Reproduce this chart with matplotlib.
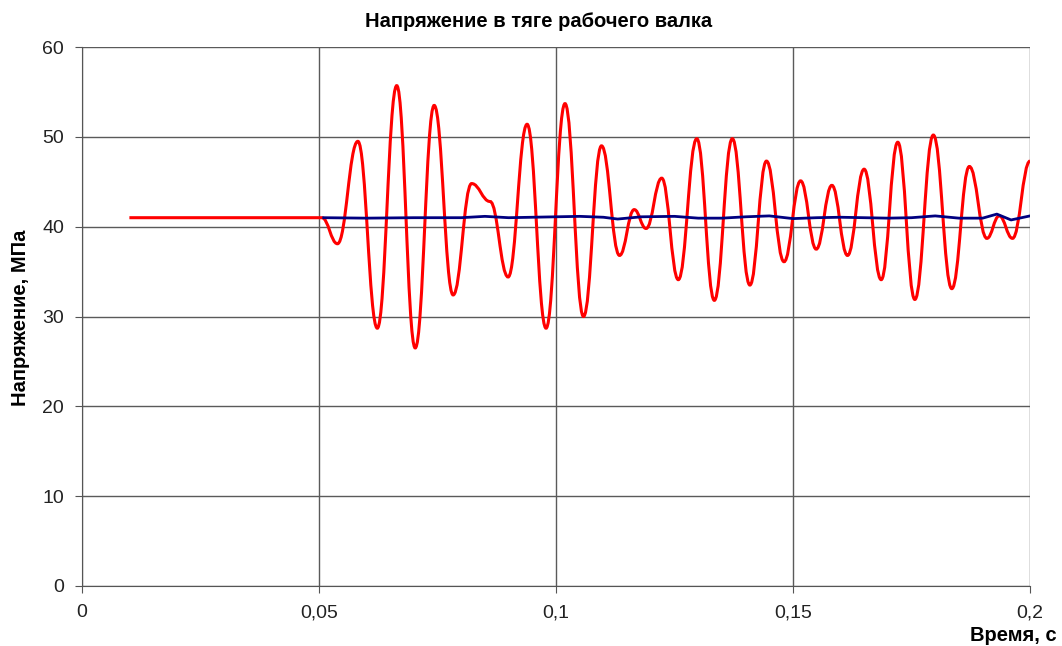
import matplotlib.pyplot as plt
from matplotlib.path import Path
from matplotlib.patches import PathPatch

plt.rcParams['font.family'] = ['Liberation Sans', 'DejaVu Sans']

# red curve: start, flat part and then the turning points of the oscillation
red_t = [0.010, 0.0506, 0.0539, 0.0582, 0.0623, 0.0664, 0.0703, 0.0743, 0.0783,
         0.0822, 0.0861, 0.0899, 0.0939, 0.0979, 0.1019, 0.1058, 0.1096, 0.1134,
         0.1165, 0.1190, 0.1223, 0.1258, 0.1297, 0.1334, 0.1372, 0.1409, 0.1444,
         0.1481, 0.1516, 0.1549, 0.1582, 0.1615, 0.1650, 0.1686, 0.1721, 0.1757,
         0.1796, 0.1835, 0.1872, 0.1909, 0.1935, 0.1963, 0.2000]
red_s = [41.0, 41.0, 38.1, 49.5, 28.7, 55.7, 26.5, 53.5, 32.4,
         44.8, 42.8, 34.4, 51.4, 28.7, 53.7, 30.0, 49.0, 36.8,
         41.9, 39.8, 45.4, 34.1, 49.8, 31.8, 49.8, 33.5, 47.3,
         36.1, 45.1, 37.5, 44.6, 36.8, 46.4, 34.1, 49.4, 31.9,
         50.2, 33.1, 46.7, 38.7, 41.2, 38.7, 47.3]

# blue curve
blue_t = [0.051, 0.060, 0.070, 0.080, 0.085, 0.090, 0.100, 0.105, 0.110, 0.113,
          0.118, 0.125, 0.130, 0.135, 0.140, 0.145, 0.150, 0.155, 0.160, 0.165,
          0.170, 0.175, 0.180, 0.185, 0.190, 0.193, 0.196, 0.200]
blue_s = [41.0, 40.95, 41.0, 41.0, 41.15, 41.0, 41.1, 41.15, 41.05, 40.85,
          41.1, 41.15, 40.95, 40.95, 41.1, 41.2, 40.9, 41.0, 41.05, 41.0,
          40.95, 41.0, 41.2, 40.95, 40.95, 41.4, 40.75, 41.2]

x_ticks = [0, 0.05, 0.1, 0.15, 0.2]
x_labels = ['0', '0,05', '0,1', '0,15', '0,2']
y_ticks = [0, 10, 20, 30, 40, 50, 60]


def smooth_path(xs, ys, k=0.42):
    # cubic bezier segments with flat tangents at every turning point
    verts = [(xs[0], ys[0])]
    codes = [Path.MOVETO]
    for i in range(1, len(xs)):
        x0, y0, x1, y1 = xs[i - 1], ys[i - 1], xs[i], ys[i]
        dx = x1 - x0
        if y0 == y1:
            verts.append((x1, y1))
            codes.append(Path.LINETO)
            continue
        verts += [(x0 + k * dx, y0), (x1 - k * dx, y1), (x1, y1)]
        codes += [Path.CURVE4] * 3
    return Path(verts, codes)


fig = plt.figure(figsize=(10.62, 6.46), dpi=100)
ax = fig.add_axes([0.0772, 0.0929, 0.8927, 0.8343])

ax.plot(blue_t, blue_s, color='#000080', linewidth=2)
ax.add_patch(PathPatch(smooth_path(red_t, red_s), facecolor='none',
                       edgecolor='#ff0000', linewidth=2.2))

ax.set_xlim(0, 0.2)
ax.set_ylim(0, 60)
ax.set_xticks(x_ticks)
ax.set_xticklabels(x_labels)
ax.set_yticks(y_ticks)
ax.tick_params(labelsize=14, direction='out', length=5, pad=8,
               color='#555555', labelcolor='#222222')
ax.grid(True, color='#5a5a5a', linewidth=1)
ax.set_axisbelow(True)
for side in ['top', 'right']:
    ax.spines[side].set_visible(False)
for side in ['left', 'bottom']:
    ax.spines[side].set_color('#555555')

fig.text(0.5075, 0.966, 'Напряжение в тяге рабочего валка', ha='center',
         va='center', fontsize=14.5, fontweight='bold')
fig.text(0.019, 0.508, 'Напряжение, МПа', ha='center', va='center',
         rotation=90, fontsize=14.5, fontweight='bold')
fig.text(0.995, 0.017, 'Время, с', ha='right', va='center', fontsize=14.5,
         fontweight='bold')

fig.savefig('out.png', dpi=100)
